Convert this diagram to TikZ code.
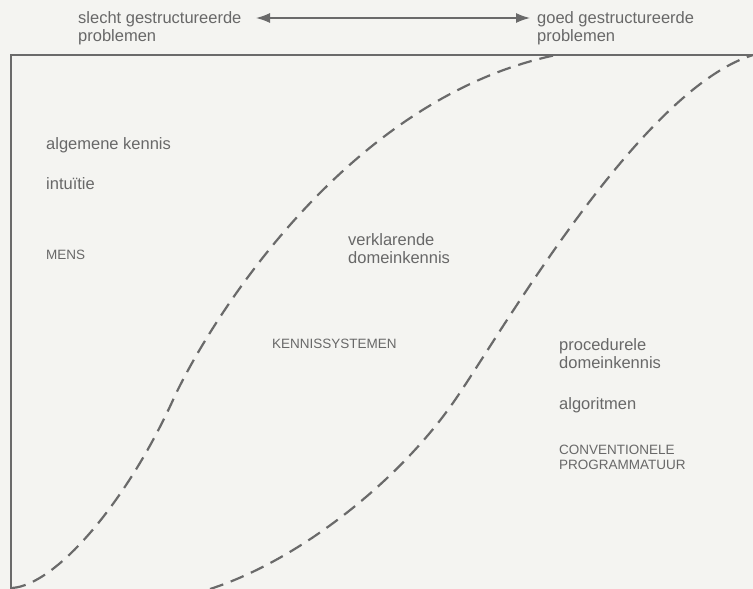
\documentclass[tikz,border=0pt]{standalone}
\usepackage{fontspec}
\setmainfont{Liberation Sans}
\usetikzlibrary{arrows.meta}
\definecolor{paper}{HTML}{F4F4F1}
\definecolor{ink}{HTML}{6A6A6A}
\definecolor{txt}{HTML}{686868}
\begin{document}
\begin{tikzpicture}[x=1pt,y=-1pt,
  lbl/.style={text=txt,font=\fontsize{16.5}{18}\selectfont,inner sep=0pt,anchor=west,align=left},
  caps/.style={text=txt,font=\fontsize{13.5}{15}\selectfont,inner sep=0pt,anchor=west,align=left},
  frame/.style={draw=ink,line width=1.8pt},
  border/.style={draw=ink,line width=2.2pt,dash pattern=on 14pt off 8pt,line cap=butt}]
  % sheet
  \fill[paper] (0,0) rectangle (753,589);
  \useasboundingbox (0,0) rectangle (753,589);

  % axis labels with double arrow
  \node[lbl] (slecht) at (78,28) {slecht gestructureerde\\problemen};
  \node[lbl] (goed) at (537,28) {goed gestructureerde\\problemen};
  \coordinate (al) at (256,18);
  \coordinate (ar) at (530,18);
  \draw[draw=ink,line width=1.4pt,{Latex[length=14pt,width=10pt]}-{Latex[length=14pt,width=10pt]}] (al) -- (ar);

  % frame
  \draw[frame] (753,55) -- (11,55) -- (11,589);

  % boundary between human and knowledge systems
  \draw[border] (12,588) .. controls (55,585) and (125,505) .. (173,400)
                         .. controls (203,334) and (340,100) .. (556,55);
  % boundary between knowledge systems and conventional software
  \draw[border] (210,589) .. controls (300,560) and (400,480) .. (455,400)
                          .. controls (500,335) and (640,90) .. (753,55);

  % left region
  \node[lbl] (algemeen) at (46,145) {algemene kennis};
  \node[lbl] (intuitie) at (46,184) {intuïtie};
  \node[caps] (mens) at (46,255) {MENS};

  % middle region
  \node[lbl] (verklarend) at (348,249) {verklarende\\domeinkennis};
  \node[caps] (kennis) at (272,344) {KENNISSYSTEMEN};

  % right region
  \node[lbl] (procedureel) at (559,354) {procedurele\\domeinkennis};
  \node[lbl] (algoritmen) at (559,405) {algoritmen};
  \node[caps] (conv) at (559,457) {CONVENTIONELE\\PROGRAMMATUUR};
\end{tikzpicture}
\end{document}
